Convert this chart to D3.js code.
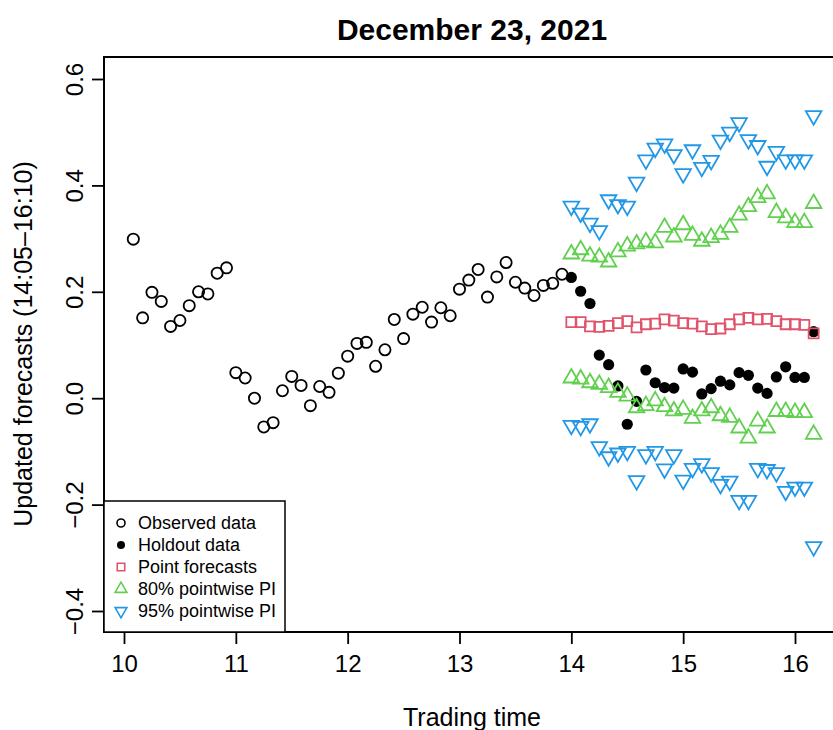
<!DOCTYPE html>
<meta charset="utf-8">

<!-- Load d3.js -->
<script src="https://d3js.org/d3.v7.min.js"></script>

<style>
  body { margin: 0; background: #fff; }
  text { font-family: "Liberation Sans", Arial, Helvetica, sans-serif; }
</style>

<!-- Create a div where the graph will take place -->
<div id="forecastPlot"></div>

<script>

// observed intraday values, 10:05 - 13:55
var obsTimes = ["10:05","10:10","10:15","10:20","10:25","10:30","10:35","10:40","10:45","10:50","10:55",
  "11:00","11:05","11:10","11:15","11:20","11:25","11:30","11:35","11:40","11:45","11:50","11:55",
  "12:00","12:05","12:10","12:15","12:20","12:25","12:30","12:35","12:40","12:45","12:50","12:55",
  "13:00","13:05","13:10","13:15","13:20","13:25","13:30","13:35","13:40","13:45","13:50","13:55"]
var observed = [0.299, 0.151, 0.199, 0.182, 0.135, 0.146, 0.174, 0.200, 0.196, 0.235, 0.245,
  0.048, 0.038, 0.000, -0.054, -0.046, 0.014, 0.041, 0.024, -0.014, 0.022, 0.011, 0.047,
  0.079, 0.103, 0.105, 0.060, 0.091, 0.148, 0.112, 0.158, 0.171, 0.143, 0.170, 0.155,
  0.205, 0.222, 0.242, 0.190, 0.228, 0.255, 0.218, 0.207, 0.193, 0.212, 0.216, 0.233]

// holdout period
var foreTimes = ["14:00","14:05","14:10","14:15","14:20","14:25","14:30","14:35","14:40","14:45","14:50","14:55",
  "15:00","15:05","15:10","15:15","15:20","15:25","15:30","15:35","15:40","15:45","15:50","15:55",
  "16:00","16:05","16:10"]
var holdout = [0.227, 0.201, 0.178, 0.081, 0.063, 0.023, -0.049, -0.006, 0.053, 0.029, 0.020, 0.019,
  0.055, 0.049, 0.008, 0.018, 0.032, 0.025, 0.048, 0.043, 0.019, 0.009, 0.040, 0.059, 0.039, 0.039, 0.125]
var pointFc = [0.143, 0.143, 0.135, 0.134, 0.136, 0.141, 0.145, 0.133, 0.139, 0.140, 0.148, 0.146,
  0.141, 0.140, 0.135, 0.130, 0.131, 0.139, 0.148, 0.151, 0.148, 0.149, 0.145, 0.139, 0.139, 0.138, 0.122]
var lower80 = [0.038, 0.036, 0.029, 0.026, 0.020, 0.011, 0.004, -0.018, -0.014, -0.005, -0.016, -0.024,
  -0.021, -0.038, -0.024, -0.018, -0.033, -0.036, -0.056, -0.075, -0.043, -0.056, -0.025, -0.025, -0.027, -0.027, -0.068]
var upper80 = [0.271, 0.279, 0.267, 0.265, 0.256, 0.275, 0.286, 0.290, 0.294, 0.292, 0.321, 0.303,
  0.326, 0.306, 0.295, 0.302, 0.308, 0.321, 0.344, 0.360, 0.377, 0.384, 0.349, 0.339, 0.330, 0.330, 0.366]
var lower95 = [-0.051, -0.053, -0.048, -0.091, -0.110, -0.103, -0.100, -0.155, -0.106, -0.100, -0.133, -0.106,
  -0.154, -0.132, -0.123, -0.140, -0.162, -0.156, -0.192, -0.192, -0.132, -0.134, -0.140, -0.175, -0.167, -0.167, -0.279]
var upper95 = [0.361, 0.348, 0.329, 0.315, 0.373, 0.364, 0.361, 0.406, 0.448, 0.470, 0.478, 0.458,
  0.422, 0.467, 0.434, 0.447, 0.485, 0.500, 0.518, 0.486, 0.475, 0.436, 0.464, 0.448, 0.448, 0.448, 0.531]

var xTicks = [10, 11, 12, 13, 14, 15, 16]
var yTicks = [-0.4, -0.2, 0.0, 0.2, 0.4, 0.6]

var colRed = "#DF536B", colGreen = "#61D04F", colBlue = "#2297E6"

// "hh:mm" -> decimal hours
function hours(s) {
  var p = s.split(":")
  return +p[0] + (+p[1]) / 60
}

var width = 833, height = 730
var box = {left: 104, top: 57, right: 845, bottom: 632}

var svg = d3.select("#forecastPlot")
  .append("svg")
    .attr("width", width)
    .attr("height", height)

// scales (ylim = c(-0.4, 0.6))
var x = d3.scaleLinear()
  .domain([10, 16])
  .range([124, 795])
var y = d3.scaleLinear()
  .domain([-0.4, 0.6])
  .range([611, 79])

// X axis
var gx = svg.append("g")
  .attr("transform", "translate(0," + box.bottom + ")")
  .call(d3.axisBottom(x).tickValues(xTicks).tickSize(12).tickFormat(d3.format("d")))
gx.select(".domain").remove()
gx.selectAll("line").attr("stroke-width", 1.8)
gx.selectAll("text")
  .attr("y", 40)
  .attr("dy", null)
  .style("font-size", "24px")
  .style("font-family", "Liberation Sans, Arial, sans-serif")

// Y axis with rotated labels
var gy = svg.append("g")
  .attr("transform", "translate(" + box.left + ",0)")
  .call(d3.axisLeft(y).tickValues(yTicks).tickSize(12).tickFormat(d3.format(".1f")))
gy.select(".domain").remove()
gy.selectAll("line").attr("stroke-width", 1.8)
gy.selectAll("text")
  .attr("x", null).attr("dy", null)
  .attr("text-anchor", "middle")
  .attr("transform", "translate(-21,0) rotate(-90)")
  .style("font-size", "24px")
  .style("font-family", "Liberation Sans, Arial, sans-serif")

// plot frame
svg.append("rect")
  .attr("x", box.left)
  .attr("y", box.top)
  .attr("width", box.right - box.left)
  .attr("height", box.bottom - box.top)
  .attr("fill", "none")
  .attr("stroke", "black")
  .attr("stroke-width", 2)

// titles
svg.append("text")
  .attr("x", 472).attr("y", 40)
  .attr("text-anchor", "middle")
  .style("font-size", "30px").style("font-weight", "bold")
  .text("December 23, 2021")
svg.append("text")
  .attr("x", 472).attr("y", 726)
  .attr("text-anchor", "middle")
  .style("font-size", "25px")
  .text("Trading time")
svg.append("text")
  .attr("transform", "translate(32,344) rotate(-90)")
  .attr("text-anchor", "middle")
  .style("font-size", "25px")
  .text("Updated forecasts (14:05\u201316:10)")

var triUp = d3.symbol().type(d3.symbolTriangle).size(105)
var sq = d3.symbol().type(d3.symbolSquare).size(100)

function pairs(times, vals) {
  return times.map(function(t, i) { return {t: hours(t), v: vals[i]} })
}

// observed data: open circles
svg.append("g").selectAll("circle")
  .data(pairs(obsTimes, observed))
  .enter().append("circle")
    .attr("cx", function(d) { return x(d.t) })
    .attr("cy", function(d) { return y(d.v) })
    .attr("r", 5.6)
    .attr("fill", "none")
    .attr("stroke", "black")
    .attr("stroke-width", 1.8)

// holdout data: filled dots
svg.append("g").selectAll("circle")
  .data(pairs(foreTimes, holdout))
  .enter().append("circle")
    .attr("cx", function(d) { return x(d.t) })
    .attr("cy", function(d) { return y(d.v) })
    .attr("r", 5.6)
    .attr("fill", "black")

// point forecasts: squares
svg.append("g").selectAll("path")
  .data(pairs(foreTimes, pointFc))
  .enter().append("path")
    .attr("d", sq)
    .attr("transform", function(d) { return "translate(" + x(d.t) + "," + y(d.v) + ")" })
    .attr("fill", "none")
    .attr("stroke", colRed)
    .attr("stroke-width", 1.8)

// 80% PI: up triangles
svg.append("g").selectAll("path")
  .data(pairs(foreTimes, lower80).concat(pairs(foreTimes, upper80)))
  .enter().append("path")
    .attr("d", triUp)
    .attr("transform", function(d) { return "translate(" + x(d.t) + "," + y(d.v) + ")" })
    .attr("fill", "none")
    .attr("stroke", colGreen)
    .attr("stroke-width", 1.8)

// 95% PI: down triangles
svg.append("g").selectAll("path")
  .data(pairs(foreTimes, lower95).concat(pairs(foreTimes, upper95)))
  .enter().append("path")
    .attr("d", triUp)
    .attr("transform", function(d) { return "translate(" + x(d.t) + "," + y(d.v) + ") rotate(180)" })
    .attr("fill", "none")
    .attr("stroke", colBlue)
    .attr("stroke-width", 1.8)

// legend (bottom left)
var legend = svg.append("g")
legend.append("rect")
  .attr("x", box.left).attr("y", 501)
  .attr("width", 181).attr("height", box.bottom - 501)
  .attr("fill", "white")
  .attr("stroke", "black")
  .attr("stroke-width", 1.5)

var legItems = ["Observed data", "Holdout data", "Point forecasts", "80% pointwise PI", "95% pointwise PI"]
var legY = d3.scalePoint().domain(legItems).range([523, 611])

legItems.forEach(function(label, i) {
  var g = legend.append("g").attr("transform", "translate(121," + legY(label) + ")")
  if (i == 0) g.append("circle").attr("r", 4).attr("fill", "none").attr("stroke", "black").attr("stroke-width", 1.6)
  if (i == 1) g.append("circle").attr("r", 4).attr("fill", "black")
  if (i == 2) g.append("path").attr("d", d3.symbol().type(d3.symbolSquare).size(56)).attr("fill", "none").attr("stroke", colRed).attr("stroke-width", 1.6)
  if (i == 3) g.append("path").attr("d", d3.symbol().type(d3.symbolTriangle).size(60)).attr("fill", "none").attr("stroke", colGreen).attr("stroke-width", 1.6)
  if (i == 4) g.append("path").attr("d", d3.symbol().type(d3.symbolTriangle).size(60)).attr("transform", "rotate(180)").attr("fill", "none").attr("stroke", colBlue).attr("stroke-width", 1.6)
  legend.append("text")
    .attr("x", 138).attr("y", legY(label))
    .attr("dy", "0.36em")
    .style("font-size", "18px")
    .text(label)
})

</script>
